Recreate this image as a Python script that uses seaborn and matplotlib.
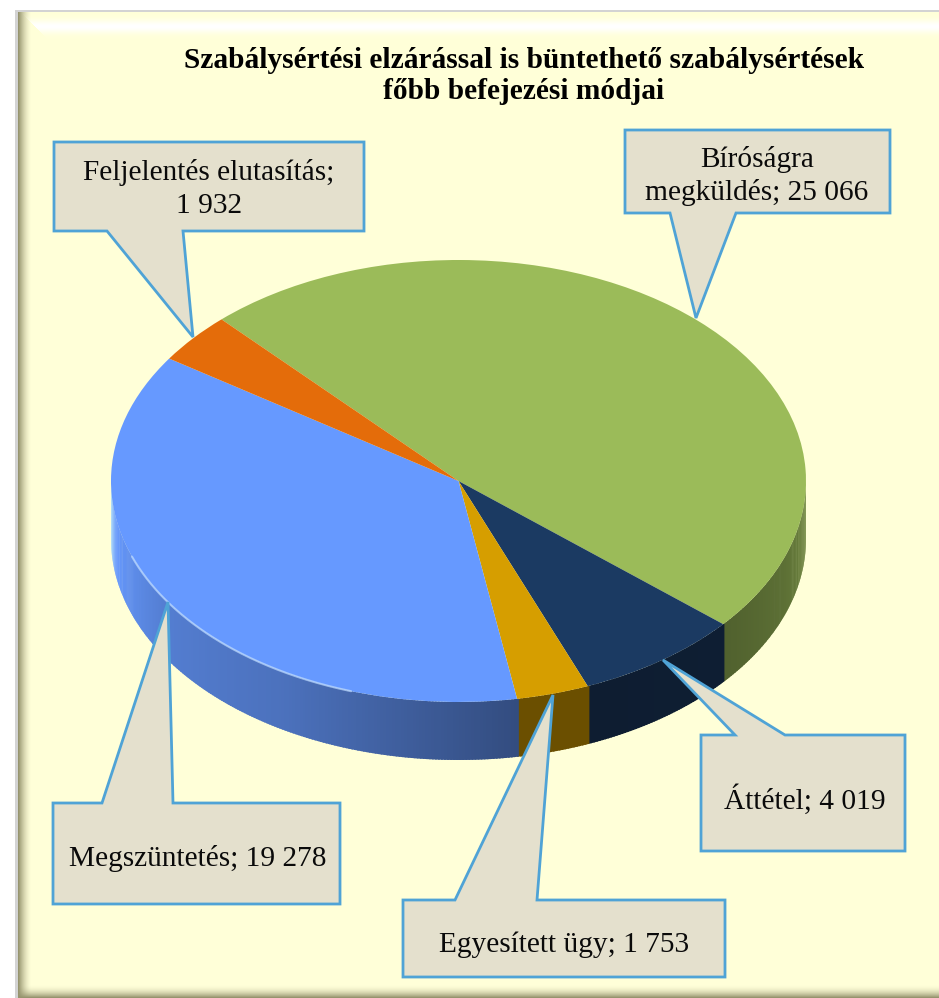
import numpy as np
import matplotlib
matplotlib.use("Agg")
import matplotlib.pyplot as plt
import seaborn as sns

# ---- data ----
categories = ["Bíróságra\nmegküldés", "Áttétel", "Egyesített ügy", "Megszüntetés", "Feljelentés elutasítás"]
values = [25066, 4019, 1753, 19278, 1932]
value_labels = ["25 066", "4 019", "1 753", "19 278", "1 932"]
title_text = "Szabálysértési elzárással is büntethető szabálysértések\nfőbb befejezési módjai"
top_colors = ["#9BBB59", "#1B3A62", "#D69E00", "#6699FF", "#E46C0A"]

# ---- styling / layout (pixels of the 939x998 picture) ----
W, H = 939, 998
CX0, CX1, CY0, CY1 = 111, 806, 260, 702
DEPTH = 58
START = 133
FILL = "#E4E0CD"
EDGE = "#4FA3D6"
CREAM = np.array([255, 255, 216]) / 255

sns.set_theme(style="white")
plt.rcParams["font.family"] = ["Liberation Serif", "DejaVu Serif"]
palette = sns.color_palette(top_colors)

fig = plt.figure(figsize=(W / 100, H / 100), dpi=100)

# ---- background frame ----
bg = fig.add_axes([0, 0, 1, 1], zorder=0)
yy, xx = np.mgrid[0:H, 0:W].astype(float)
img = np.ones((H, W, 3))
img[:] = CREAM
k = np.clip((31 - xx) / 13, 0, 1)[..., None] ** 1.6
dark = np.array([150, 148, 110]) / 255
img = img * (1 - k) + dark * k
hl = np.exp(-((yy - 26) / 6.5) ** 2) * (xx > yy + 8)
img = img * (1 - hl[..., None]) + hl[..., None] * 1.0
kb = np.clip((yy - 984) / 13, 0, 1)[..., None] ** 2
img = img * (1 - kb) + dark * kb
out = (xx < 18) | (yy < 12)
img[out] = 0.83
out2 = (xx < 15) | (yy < 10)
img[out2] = 1.0
bg.imshow(img, extent=(0, W, H, 0), aspect="auto", interpolation="nearest")
bg.axis("off")

# ---- pie ----
total_h = (CY1 - CY0) + DEPTH + 2
ax = fig.add_axes([CX0 / W, 1 - (CY0 + total_h) / H, (CX1 - CX0) / W, total_h / H], zorder=1)
wedges, _ = ax.pie(values, colors=palette, startangle=START, counterclock=False,
                   radius=1, wedgeprops=dict(linewidth=0))
ax.set_aspect("auto")
dz = DEPTH / ((CY1 - CY0) / 2)
ax.set_xlim(-1, 1)
ax.set_ylim(-1 - (total_h - (CY1 - CY0)) / ((CY1 - CY0) / 2), 1)
ax.axis("off")

shade_t = [-180, -170, -147, -120, -100, -80, -68, -40, -20, 0]
shade_m = [1.12, 1.00, 0.82, 0.74, 0.62, 0.50, 0.50, 0.52, 0.60, 0.74]

fractions = np.array(values) / np.sum(values)
edges = START - 360 * np.concatenate([[0], np.cumsum(fractions)])
for i in range(len(values)):
    hi, lo = edges[i], edges[i + 1]
    hi_n = ((hi + 180) % 360) - 180
    lo_n = hi_n - (hi - lo)
    a0 = max(lo_n, -180)
    b0 = min(hi_n, 0)
    spans = [(a0, b0)] if a0 < b0 else []
    if i == 3:
        spans = [(-180, b0)]
    for a, b in spans:
        n = max(int(b - a) * 2, 2)
        th = np.linspace(a, b, n + 1)
        rgb = np.array(palette[i])
        for t0, t1 in zip(th[:-1], th[1:]):
            tm = (t0 + t1) / 2
            m = np.interp(tm, shade_t, shade_m)
            col = np.clip(rgb * min(m, 1) + max(m - 1, 0) * 3, 0, 1)
            r = np.radians([t0, t1 + 0.3])
            px, py = np.cos(r), np.sin(r)
            ax.fill([px[0], px[1], px[1], px[0]],
                    [py[0], py[1], py[1] - dz, py[0] - dz],
                    color=col, lw=0, zorder=0)

# light rim on the blue top edge
rim = np.radians(np.linspace(-160, -108, 200))
ax.plot(np.cos(rim), np.sin(rim), color="#BFDCFF", lw=1.5, alpha=0.7, zorder=3, solid_capstyle="round")

# ---- callouts ----
ov = fig.add_axes([0, 0, 1, 1], zorder=2)
ov.set_xlim(0, W)
ov.set_ylim(H, 0)
ov.patch.set_alpha(0)
ov.axis("off")

callouts = {
    4: dict(box=(54, 142, 364, 231), base=(107, 183), side="bottom", tip=(193, 337), text=(209, 189)),
    0: dict(box=(625, 130, 890, 213), base=(670, 736), side="bottom", tip=(696, 318), text=(757, 176)),
    1: dict(box=(701, 735, 905, 851), base=(735, 785), side="top", tip=(663, 660), text=(805, 800)),
    2: dict(box=(403, 900, 725, 977), base=(455, 537), side="top", tip=(553, 695), text=(564, 945)),
    3: dict(box=(53, 803, 340, 904), base=(102, 173), side="top", tip=(168, 602), text=(198, 858)),
}
for i, c in callouts.items():
    x0, y0, x1, y1 = c["box"]
    b0, b1 = c["base"]
    tx, ty = c["tip"]
    if c["side"] == "top":
        pts = [(x0, y0), (b0, y0), (tx, ty), (b1, y0), (x1, y0), (x1, y1), (x0, y1)]
    else:
        pts = [(x0, y0), (x1, y0), (x1, y1), (b1, y1), (tx, ty), (b0, y1), (x0, y1)]
    ov.add_patch(plt.Polygon(pts, closed=True, facecolor=FILL, edgecolor=EDGE, lw=2.0, joinstyle="miter"))
    name = categories[i]
    if i == 4:
        label = f"{name};\n{value_labels[i]}"
    else:
        label = f"{name}; {value_labels[i]}"
    ov.text(c["text"][0], c["text"][1], label, ha="center", va="center",
            fontsize=21.2, color="#0A0A0A", linespacing=1.32)

ov.text(524, 76, title_text, ha="center", va="center", fontsize=21.15,
        fontweight="bold", color="black", linespacing=1.2)

fig.savefig("out.png", dpi=100)
